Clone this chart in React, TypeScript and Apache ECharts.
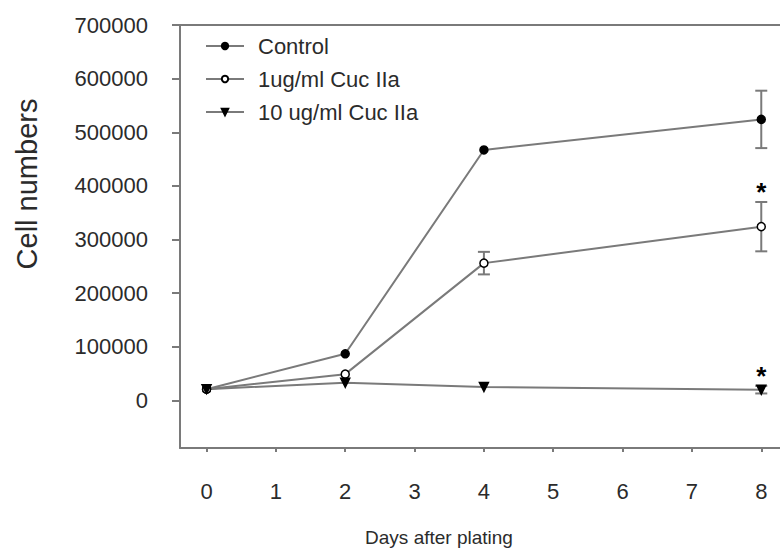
import React, { useEffect, useRef } from "react";
import * as echarts from "echarts";

const days = [0, 2, 4, 8];
const xTicks = [0, 1, 2, 3, 4, 5, 6, 7, 8];
const yTicks = [0, 100000, 200000, 300000, 400000, 500000, 600000, 700000];

const seriesNames = ["Control", "1ug/ml Cuc IIa", "10 ug/ml Cuc IIa"];
const control = [21000, 87000, 467000, 524000];
const controlErr = [3000, 5000, 4000, 53500];
const cuc1 = [21000, 49000, 256000, 324000];
const cuc1Err = [2000, 4000, 21000, 46000];
const cuc10 = [21000, 33000, 25000, 20000];
const cuc10Err = [2000, 3000, 3000, 7000];
const controlSig = [0, 0, 0, 0];
const cuc1Sig = [0, 0, 0, 1];
const cuc10Sig = [0, 0, 0, 1];

const LINE = "#7a7a7a";
const TEXT = "#2b2b2b";
const FONT = "Liberation Sans, Arial, sans-serif";

function errData(vals: number[], errs: number[], sig: number[]) {
  return days.map((d, i) => [d, vals[i] - errs[i], vals[i] + errs[i], sig[i]]);
}

function renderErr(params: any, api: any) {
  const x = api.value(0);
  const lo = api.coord([x, api.value(1)]);
  const hi = api.coord([x, api.value(2)]);
  const cap = 6;
  const style = { stroke: LINE, lineWidth: 2 };
  const children: any[] = [];
  if (Math.abs(lo[1] - hi[1]) > 6) {
    children.push(
      { type: "line", shape: { x1: hi[0], y1: hi[1], x2: lo[0], y2: lo[1] }, style },
      { type: "line", shape: { x1: hi[0] - cap, y1: hi[1], x2: hi[0] + cap, y2: hi[1] }, style },
      { type: "line", shape: { x1: lo[0] - cap, y1: lo[1], x2: lo[0] + cap, y2: lo[1] }, style }
    );
  }
  if (api.value(3) === 1) {
    children.push({
      type: "text",
      x: hi[0],
      y: hi[1] - 10,
      style: {
        text: "*",
        fill: "#000",
        font: "bold 26px " + FONT,
        align: "center",
        verticalAlign: "middle",
      },
    });
  }
  return { type: "group", children };
}

export default function App() {
  const ref = useRef<HTMLDivElement>(null);
  useEffect(() => {
    if (!ref.current) return;
    const chart = echarts.init(ref.current, null, { renderer: "svg" });
    const lineSeries = (name: string, data: number[], symbol: string, fill: string, size: number, rotate = 0) => ({
      name,
      type: "line",
      data: days.map((d, i) => [d, data[i]]),
      symbol,
      symbolSize: size,
      symbolRotate: rotate,
      showAllSymbol: true,
      lineStyle: { color: LINE, width: 2 },
      itemStyle: { color: fill, borderColor: "#000", borderWidth: 1.5 },
      z: 3,
    });
    const errSeries = (vals: number[], errs: number[], sig: number[]) => ({
      type: "custom",
      renderItem: renderErr,
      data: errData(vals, errs, sig),
      z: 2,
      silent: true,
    });
    chart.setOption({
      animation: false,
      backgroundColor: "#fff",
      grid: {
        left: 180,
        top: 25,
        width: 609,
        bottom: 106,
        outerBoundsMode: "none",
        containLabel: false,
        show: false,
      },
      legend: {
        data: seriesNames,
        orient: "vertical",
        left: 205,
        top: 35,
        padding: 0,
        itemWidth: 38,
        itemHeight: 8,
        itemGap: 11,
        textStyle: { color: TEXT, fontSize: 22, fontFamily: FONT, padding: [0, 0, 0, 9] },
      },
      xAxis: [
        {
          type: "value",
          min: -0.383,
          max: 8.4,
          axisLine: { show: true, onZero: false, lineStyle: { color: LINE, width: 2 } },
          axisTick: { show: true, customValues: xTicks, length: 4, lineStyle: { color: LINE, width: 2 } },
          axisLabel: { customValues: xTicks, margin: 32, color: TEXT, fontSize: 22, fontFamily: FONT },
          splitLine: { show: false },
        },
        {
          type: "value",
          position: "top",
          min: -0.383,
          max: 8.4,
          axisLine: { show: true, onZero: false, lineStyle: { color: LINE, width: 2 } },
          axisTick: { show: false },
          axisLabel: { show: false },
          splitLine: { show: false },
        },
      ],
      yAxis: {
        type: "value",
        min: -88700,
        max: 700000,
        axisLine: { show: true, onZero: false, lineStyle: { color: LINE, width: 2 } },
        axisTick: { show: true, customValues: yTicks, length: 8, lineStyle: { color: LINE, width: 2 } },
        axisLabel: {
          customValues: yTicks,
          margin: 32,
          color: TEXT,
          fontSize: 22,
          fontFamily: FONT,
          formatter: (v: number) => String(v),
        },
        splitLine: { show: false },
      },
      graphic: [
        {
          type: "text",
          x: 439,
          y: 537,
          style: {
            text: "Days after plating",
            fill: TEXT,
            font: "19px " + FONT,
            align: "center",
            verticalAlign: "middle",
          },
        },
        {
          type: "text",
          x: 27,
          y: 184,
          rotation: Math.PI / 2,
          style: {
            text: "Cell numbers",
            fill: TEXT,
            font: "29px " + FONT,
            align: "center",
            verticalAlign: "middle",
          },
        },
      ],
      series: [
        errSeries(control, controlErr, controlSig),
        errSeries(cuc1, cuc1Err, cuc1Sig),
        errSeries(cuc10, cuc10Err, cuc10Sig),
        lineSeries(seriesNames[0], control, "circle", "#000", 8),
        lineSeries(seriesNames[1], cuc1, "circle", "#fff", 8),
        lineSeries(seriesNames[2], cuc10, "triangle", "#000", 9, 180),
      ],
    });
    return () => chart.dispose();
  }, []);
  return (
    <div
      style={{
        position: "absolute",
        left: 0,
        top: 0,
        width: 780,
        height: 554,
        overflow: "hidden",
        background: "#fff",
      }}
    >
      <div ref={ref} style={{ width: 820, height: 554 }} />
    </div>
  );
}
